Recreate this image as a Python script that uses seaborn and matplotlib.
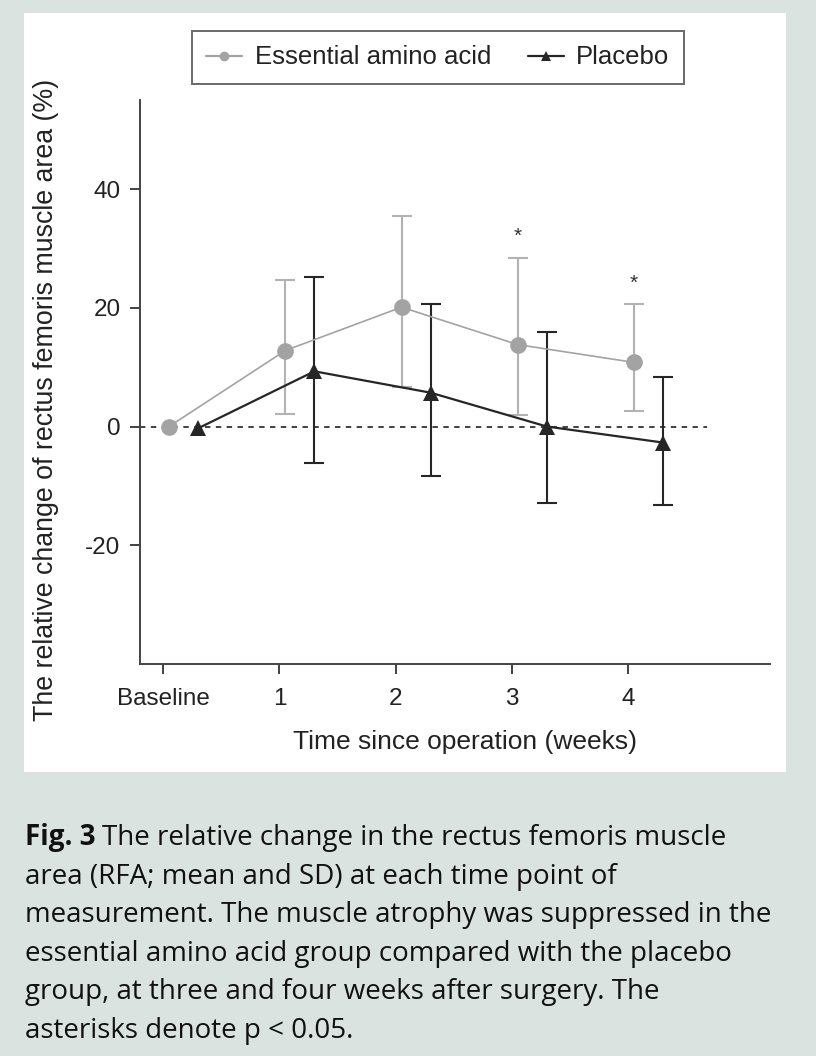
import numpy as np
import pandas as pd
import matplotlib
matplotlib.use("Agg")
import matplotlib.pyplot as plt
import seaborn as sns

# dados
semanas = [0, 1, 2, 3, 4]
rotulos_x = ["Baseline", "1", "2", "3", "4"]

eaa_media = [0.0, 12.8, 20.1, 13.8, 10.8]
eaa_topo = [0.0, 24.7, 35.5, 28.4, 20.7]
eaa_base = [0.0, 2.1, 6.6, 2.0, 2.6]

placebo_media = [-0.3, 9.3, 5.7, 0.0, -2.7]
placebo_topo = [0.0, 25.2, 20.6, 16.0, 8.3]
placebo_base = [0.0, -6.2, -8.4, -12.8, -13.2]

semanas_asterisco = [3, 4]
y_asterisco = [32.0, 24.2]

legenda = ["Essential amino acid", "Placebo"]
titulo_y = "The relative change of rectus femoris muscle area (%)"
titulo_x = "Time since operation (weeks)"

# deslocamento horizontal de cada grupo
DESLOC_EAA = 0.05
DESLOC_PLA = 0.30

COR_FUNDO = "#dae3df"
COR_EAA = "#a3a3a3"
COR_EAA_ERRO = "#b3b3b3"
COR_PLA = "#262626"

sns.set_theme(style="ticks")
plt.rcParams["font.family"] = ["Liberation Sans", "DejaVu Sans"]
plt.rcParams["axes.unicode_minus"] = False

df = pd.DataFrame({
    "semana": semanas * 2,
    "valor": eaa_media + placebo_media,
    "grupo": [legenda[0]] * 5 + [legenda[1]] * 5,
})
df["x"] = df["semana"] + np.where(df["grupo"] == legenda[0], DESLOC_EAA, DESLOC_PLA)

fig = plt.figure(figsize=(8.16, 10.56), dpi=100)
fig.patch.set_facecolor(COR_FUNDO)

# painel branco atras do grafico
painel = plt.Rectangle((24 / 816, 1 - 772 / 1056), (786 - 24) / 816, (772 - 13) / 1056,
                       transform=fig.transFigure, facecolor="white", edgecolor="none", zorder=-5)
fig.patches.append(painel)

ax = fig.add_axes([140 / 816, 1 - 664 / 1056, (770 - 140) / 816, (664 - 100) / 1056])
ax.set_zorder(1)
ax.set_facecolor("white")

# linha tracejada em zero
ax.plot([-0.2, 4.68], [0, 0], color="#333333", lw=1.3, ls=(0, (3, 3)), zorder=1)

# barras de erro
x_eaa = np.array(semanas[1:]) + DESLOC_EAA
m_eaa = np.array(eaa_media[1:])
ax.errorbar(x_eaa, m_eaa,
            yerr=[m_eaa - np.array(eaa_base[1:]), np.array(eaa_topo[1:]) - m_eaa],
            fmt="none", ecolor=COR_EAA_ERRO, elinewidth=1.5, capsize=7, capthick=1.5, zorder=2)
x_pla = np.array(semanas[1:]) + DESLOC_PLA
m_pla = np.array(placebo_media[1:])
ax.errorbar(x_pla, m_pla,
            yerr=[m_pla - np.array(placebo_base[1:]), np.array(placebo_topo[1:]) - m_pla],
            fmt="none", ecolor=COR_PLA, elinewidth=1.5, capsize=7, capthick=1.5, zorder=3)

sns.lineplot(data=df, x="x", y="valor", hue="grupo", style="grupo",
             palette={legenda[0]: COR_EAA, legenda[1]: COR_PLA},
             markers={legenda[0]: "o", legenda[1]: "^"},
             dashes={legenda[0]: "", legenda[1]: ""},
             markersize=12, markeredgewidth=0, ax=ax, legend=False, zorder=4)
ax.lines[-2].set_linewidth(1.2)
ax.lines[-1].set_linewidth(1.6)

for s, y in zip(semanas_asterisco, y_asterisco):
    ax.text(s + DESLOC_EAA, y, "*", ha="center", va="center", fontsize=15, color="#333333")

ax.set_xlim(-0.2, 5.22)
ax.set_ylim(-40, 55)
ax.set_xticks(semanas)
ax.set_xticklabels(rotulos_x)
ax.set_yticks([-20, 0, 20, 40])
ax.set_xlabel("")
ax.set_ylabel("")
ax.tick_params(axis="both", direction="out", labelsize=17.5, colors="#333333", labelcolor="#222222")
ax.tick_params(axis="y", length=7, width=1.3, pad=7)
ax.tick_params(axis="x", length=7, width=1.3, pad=10)
sns.despine(ax=ax)
for lado in ["left", "bottom"]:
    ax.spines[lado].set_linewidth(1.4)
    ax.spines[lado].set_color("#444444")

fig.text(46 / 816, 1 - 400 / 1056, titulo_y, rotation=90, ha="center", va="center",
         fontsize=19.3, color="#222222")
fig.text(465 / 816, 1 - 742 / 1056, titulo_x, ha="center", va="center",
         fontsize=19, color="#222222")

# legenda
h_eaa = plt.Line2D([], [], color=COR_EAA, marker="o", markersize=7, lw=1.6, markeredgewidth=0)
h_pla = plt.Line2D([], [], color=COR_PLA, marker="^", markersize=7, lw=1.6, markeredgewidth=0)
leg = fig.legend([h_eaa, h_pla], legenda, loc="center", ncol=2,
                 bbox_to_anchor=(438 / 816, 1 - 57.5 / 1056), fontsize=18.5,
                 frameon=True, fancybox=False, handlelength=1.4, handletextpad=0.5,
                 columnspacing=1.4, borderpad=0.55)
leg.get_frame().set_edgecolor("#444444")
leg.get_frame().set_linewidth(1.4)
for t in leg.get_texts():
    t.set_color("#222222")

# legenda da figura
fam_leg = ["Open Sans", "DejaVu Sans"]
linhas = [
    "The relative change in the rectus femoris muscle",
    "area (RFA; mean and SD) at each time point of",
    "measurement. The muscle atrophy was suppressed in the",
    "essential amino acid group compared with the placebo",
    "group, at three and four weeks after surgery. The",
    "asterisks denote p < 0.05.",
]
y0 = 838
passo = 38.6
t_fig = fig.text(25 / 816, 1 - y0 / 1056, "Fig. 3", fontsize=20, fontweight="bold",
                 family=fam_leg, va="center", ha="left", color="#111111")
fig.canvas.draw()
bb = t_fig.get_window_extent()
x_resto = (bb.x1 + 6) / 816
fig.text(x_resto, 1 - y0 / 1056, linhas[0], fontsize=20, family=fam_leg,
         va="center", ha="left", color="#111111")
for i, l in enumerate(linhas[1:], start=1):
    fig.text(25 / 816, 1 - (y0 + i * passo) / 1056, l, fontsize=20, family=fam_leg,
             va="center", ha="left", color="#111111")

fig.savefig("out.png", dpi=100, facecolor=fig.get_facecolor())
